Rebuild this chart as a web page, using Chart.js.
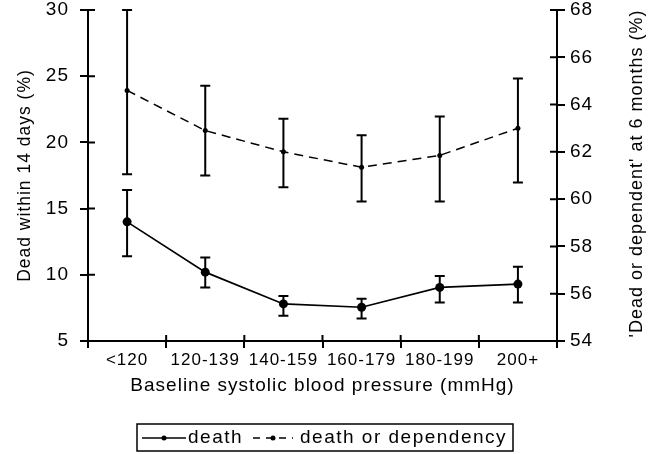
<!DOCTYPE html>
<html>
<head>
<meta charset="utf-8">
<script src="https://cdn.jsdelivr.net/npm/chart.js@4/dist/chart.umd.min.js"></script>
<style>
  html, body { margin: 0; padding: 0; background: #fff; }
  #wrap { width: 649px; height: 454px; }
</style>
</head>
<body>
<div id="wrap"><canvas id="bpChart"></canvas></div>
<script>
// categories + values
const categories = ["<120", "120-139", "140-159", "160-179", "180-199", "200+"];

const death = [14.0, 10.2, 7.8, 7.55, 9.05, 9.3];
const deathLow = [11.4, 9.05, 6.9, 6.7, 7.9, 7.9];
const deathHigh = [16.4, 11.3, 8.4, 8.2, 9.9, 10.6];

const depend = [64.6, 62.9, 62.0, 61.35, 61.85, 63.0];
const dependLow = [61.05, 61.0, 60.5, 59.9, 59.9, 60.7];
const dependHigh = [68.0, 64.8, 63.4, 62.7, 63.5, 65.1];

const rightTitle = "'Dead or dependent' at 6 months (%)";

const FONT = "'Liberation Sans', Arial, sans-serif";

// spaced-out lettering like the old bitmap font
const spacing = {
    id: "spacing",
    beforeDraw(chart) { chart.ctx.letterSpacing = "1px"; },
    beforeLayout(chart) { chart.ctx.letterSpacing = "1px"; }
};

// error bars from the low/high arrays
const errorBars = {
    id: "errorBars",
    afterDatasetsDraw(chart) {
        const ctx = chart.ctx;
        ctx.save();
        ctx.strokeStyle = "#000";
        ctx.lineWidth = 2;
        ctx.setLineDash([]);
        chart.data.datasets.forEach((ds, i) => {
            const meta = chart.getDatasetMeta(i);
            const ys = chart.scales[ds.yAxisID];
            meta.data.forEach((pt, j) => {
                const top = ys.getPixelForValue(ds.errHigh[j]);
                const bot = ys.getPixelForValue(ds.errLow[j]);
                ctx.beginPath();
                ctx.moveTo(pt.x, top); ctx.lineTo(pt.x, bot);
                ctx.moveTo(pt.x - 5, top); ctx.lineTo(pt.x + 5, top);
                ctx.moveTo(pt.x - 5, bot); ctx.lineTo(pt.x + 5, bot);
                ctx.stroke();
            });
        });
        ctx.restore();
    }
};

// inner half of the crossing tick marks + right title reading upward
const axisExtras = {
    id: "axisExtras",
    afterDraw(chart) {
        const ctx = chart.ctx;
        const {x, yLeft, yRight} = chart.scales;
        const area = chart.chartArea;
        ctx.save();
        ctx.strokeStyle = "#000";
        ctx.lineWidth = 2;
        ctx.beginPath();
        for (let i = 0; i <= categories.length; i++) {
            const px = x.getPixelForValue(i - 0.5);
            ctx.moveTo(px, x.top); ctx.lineTo(px, x.top - 6);
        }
        yLeft.ticks.forEach(t => {
            const py = yLeft.getPixelForValue(t.value);
            ctx.moveTo(yLeft.right, py); ctx.lineTo(yLeft.right + 7, py);
        });
        yRight.ticks.forEach(t => {
            const py = yRight.getPixelForValue(t.value);
            ctx.moveTo(yRight.left, py); ctx.lineTo(yRight.left - 7, py);
        });
        ctx.stroke();

        ctx.letterSpacing = "1px";
        ctx.fillStyle = "#000";
        ctx.font = "18px " + FONT;
        ctx.textAlign = "center";
        ctx.textBaseline = "middle";
        ctx.translate(yRight.right - 12, (area.top + area.bottom) / 2 - 2);
        ctx.rotate(-Math.PI / 2);
        ctx.fillText(rightTitle, 0, 0);
        ctx.restore();
    }
};

// boxed legend under the axis title
const boxLegend = {
    id: "boxLegend",
    afterDraw(chart) {
        const ctx = chart.ctx;
        const ds = chart.data.datasets;
        const y = 438;
        ctx.save();
        ctx.strokeStyle = "#000";
        ctx.fillStyle = "#000";
        ctx.lineWidth = 1.5;
        ctx.strokeRect(137, 424, 376, 27);

        ctx.beginPath();
        ctx.moveTo(142, y); ctx.lineTo(186, y);
        ctx.stroke();
        ctx.beginPath(); ctx.arc(164, y, 2.5, 0, Math.PI * 2); ctx.fill();

        ctx.setLineDash([7, 6]);
        ctx.beginPath();
        ctx.moveTo(253, y); ctx.lineTo(293, y);
        ctx.stroke();
        ctx.setLineDash([]);
        ctx.beginPath(); ctx.arc(273, y, 2.5, 0, Math.PI * 2); ctx.fill();

        ctx.letterSpacing = "1.5px";
        ctx.font = "19px " + FONT;
        ctx.textBaseline = "middle";
        ctx.fillText(ds[0].label, 188, y);
        ctx.fillText(ds[1].label, 300, y);
        ctx.restore();
    }
};

const tickFont = { family: FONT, size: 17 };

// y axes: fixed width, no extra label padding above/below
function fitY(width) {
    return s => {
        s.width = width;
        s.paddingTop = 0;
        s.paddingBottom = 0;
    };
}

new Chart(document.getElementById("bpChart"), {
    type: "line",
    data: {
        labels: categories,
        datasets: [
            {
                label: "death",
                data: death,
                errLow: deathLow,
                errHigh: deathHigh,
                yAxisID: "yLeft",
                borderColor: "#000",
                backgroundColor: "#000",
                borderWidth: 1.7,
                pointRadius: 4.5,
                pointBorderWidth: 0,
                tension: 0
            },
            {
                label: "death or dependency",
                data: depend,
                errLow: dependLow,
                errHigh: dependHigh,
                yAxisID: "yRight",
                borderColor: "#000",
                backgroundColor: "#000",
                borderWidth: 1.5,
                borderDash: [9, 6],
                pointRadius: 2.5,
                pointBorderWidth: 0,
                tension: 0
            }
        ]
    },
    options: {
        responsive: true,
        maintainAspectRatio: false,
        animation: false,
        layout: { padding: { top: 10, left: 0, right: 0, bottom: 0 } },
        plugins: { legend: { display: false }, tooltip: { enabled: false } },
        scales: {
            x: {
                type: "category",
                offset: true,
                afterFit(s) { s.height = 113; },
                grid: { drawOnChartArea: false, offset: true, color: "#000", lineWidth: 2, tickLength: 7 },
                border: { color: "#000", width: 2 },
                ticks: { color: "#000", font: tickFont, padding: 2, maxRotation: 0 },
                title: {
                    display: true,
                    text: "Baseline systolic blood pressure (mmHg)",
                    color: "#000",
                    font: { family: FONT, size: 19 },
                    padding: { top: 0, bottom: 57 }
                }
            },
            yLeft: {
                position: "left",
                min: 5, max: 30,
                afterFit: fitY(88),
                grid: { drawOnChartArea: false, color: "#000", lineWidth: 2, tickLength: 8 },
                border: { color: "#000", width: 2 },
                ticks: { color: "#000", font: { family: FONT, size: 19 }, stepSize: 5, padding: 11 },
                title: {
                    display: true,
                    text: "Dead within 14 days (%)",
                    color: "#000",
                    font: { family: FONT, size: 17.5 },
                    padding: { top: 15, bottom: 0 }
                }
            },
            yRight: {
                position: "right",
                min: 54, max: 68,
                afterFit: fitY(92),
                grid: { drawOnChartArea: false, color: "#000", lineWidth: 2, tickLength: 8 },
                border: { color: "#000", width: 2 },
                ticks: { color: "#000", font: { family: FONT, size: 19 }, stepSize: 2, padding: 5 },
                title: { display: false }
            }
        }
    },
    plugins: [spacing, errorBars, axisExtras, boxLegend]
});
</script>
</body>
</html>
